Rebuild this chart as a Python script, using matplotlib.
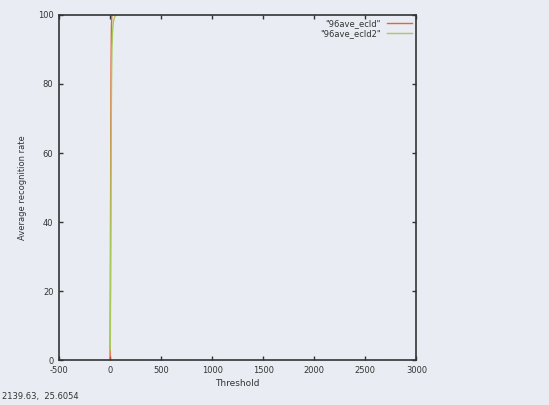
import matplotlib
matplotlib.use("Agg")
import matplotlib.pyplot as plt

plt.rcParams["axes.unicode_minus"] = False

# threshold vs average recognition rate
thr_ecld = [0, 3, 5, 7, 9, 11, 13, 16, 20]
rate_ecld = [0, 20, 45, 65, 80, 90, 96, 99.5, 100]
thr_ecld2 = [2, 6, 10, 14, 18, 24, 32, 45, 60]
rate_ecld2 = [3, 30, 60, 80, 90, 95, 98, 99.5, 100]

x_ticks = [-500, 0, 500, 1000, 1500, 2000, 2500, 3000]
y_ticks = [0, 20, 40, 60, 80, 100]

bg = "#e9edf3"
fig = plt.figure(figsize=(5.49, 4.05), dpi=100, facecolor=bg)
ax = fig.add_axes([0.1075, 0.111, 0.651, 0.852], facecolor=bg)

ax.plot(thr_ecld, rate_ecld, color="#e4643c", lw=1.0, label='"96ave_ecld"')
ax.plot(thr_ecld2, rate_ecld2, color="#a9c95a", lw=1.0, label='"96ave_ecld2"')

ax.set_xlim(-500, 3000)
ax.set_ylim(0, 100)
ax.set_xticks(x_ticks)
ax.set_yticks(y_ticks)
ax.tick_params(direction="in", top=True, right=True, length=3, width=1,
               labelsize=6, colors="#333333", pad=4)
for s in ax.spines.values():
    s.set_color("#333333")
    s.set_linewidth(1.2)

ax.set_xlabel("Threshold", fontsize=6.5, color="#333333", labelpad=3)
ax.set_ylabel("Average recognition rate", fontsize=6, color="#333333", labelpad=8)

leg = ax.legend(loc="upper right", frameon=False, fontsize=6, markerfirst=False,
                handlelength=3, borderaxespad=0.1, labelspacing=0.1,
                bbox_to_anchor=(1.0, 1.0))
for t in leg.get_texts():
    t.set_color("#333333")

fig.text(0.004, 0.015, "2139.63,  25.6054", fontsize=6, color="#333333")

fig.savefig("out.png", dpi=100, facecolor=bg)
